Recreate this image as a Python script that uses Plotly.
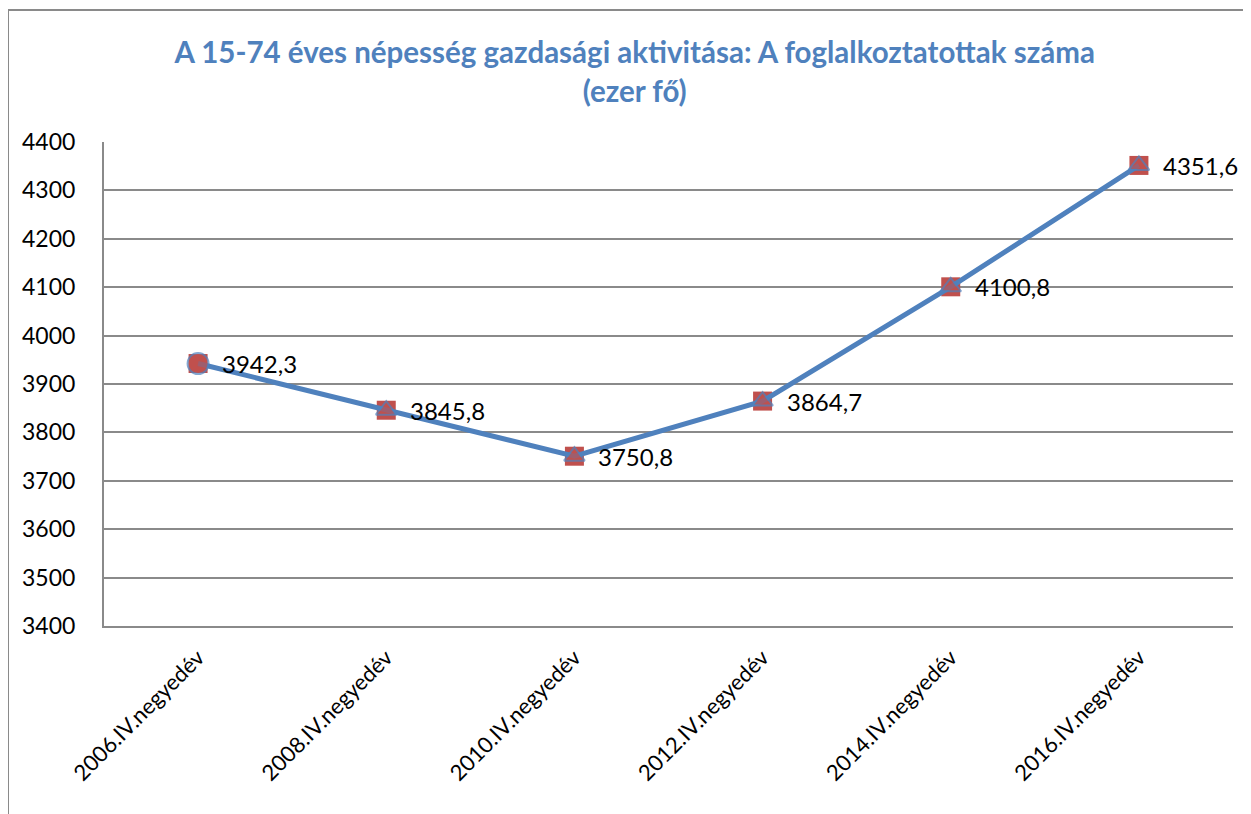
import plotly.graph_objects as go

categories = ["2006.IV.negyedév", "2008.IV.negyedév", "2010.IV.negyedév",
              "2012.IV.negyedév", "2014.IV.negyedév", "2016.IV.negyedév"]
values = [3942.3, 3845.8, 3750.8, 3864.7, 4100.8, 4351.6]
labels = [f"{v:.1f}".replace(".", ",") for v in values]
symbols = ["circle", "triangle-up", "triangle-up", "triangle-up", "triangle-up", "triangle-up"]

BLUE = "#4F81BD"
RED = "#C0504D"
GRID = "#8A8A8A"
FONT = "Lato"

L, R, T, B = 96, 26, 134, 196
PW, PH = 1251 - L - R, 814 - T - B

fig = go.Figure()
# square markers (background series)
fig.add_trace(go.Scatter(
    x=categories, y=values, mode="markers",
    marker=dict(symbol="square", size=19, color=RED, line=dict(width=0)),
    hoverinfo="skip", showlegend=False))
# main line with triangle markers
fig.add_trace(go.Scatter(
    x=categories, y=values, mode="lines+markers",
    line=dict(color=BLUE, width=5),
    marker=dict(symbol=symbols, size=[21, 18, 18, 18, 18, 18], color=RED,
                line=dict(color=BLUE, width=2)),
    showlegend=False))

for c, v, t in zip(categories, values, labels):
    fig.add_annotation(x=c, y=v, text=t, showarrow=False, xanchor="left",
                       yanchor="middle", xshift=22,
                       font=dict(family=FONT, size=24, color="#000000"))

fig.update_layout(
    width=1251, height=814,
    margin=dict(l=L, r=R, t=T, b=B),
    paper_bgcolor="white", plot_bgcolor="white",
    font=dict(family=FONT, size=20, color="#000000"),
    title=dict(text="<b>A 15-74 éves népesség gazdasági aktivitása: A foglalkoztatottak száma<br>(ezer fő)</b>",
               x=0.501, xref="container", xanchor="center", y=0.932, yanchor="middle",
               font=dict(family=FONT, size=29.5, color=BLUE)),
    showlegend=False,
)
fig.update_xaxes(
    type="category", range=[-0.5, 5.5], tickangle=-45, showgrid=False, showline=True,
    linecolor=GRID, linewidth=2, ticks="", tickfont=dict(family=FONT, size=22),
    ticklabelstandoff=8, automargin=False,
)
fig.update_yaxes(
    range=[3400, 4400], dtick=100, showgrid=True, gridcolor=GRID, gridwidth=2,
    showline=True, linecolor=GRID, linewidth=2, ticks="", zeroline=False,
    tickfont=dict(family=FONT, size=23), ticklabelstandoff=22, automargin=False,
)
# outer chart border
fig.add_shape(type="rect", xref="paper", yref="paper",
              x0=(0 - L) / PW, x1=1.2, y0=-0.6, y1=(PH + T - 2) / PH,
              line=dict(color=GRID, width=2), fillcolor="rgba(0,0,0,0)", layer="below")

fig.write_html("out.html")
